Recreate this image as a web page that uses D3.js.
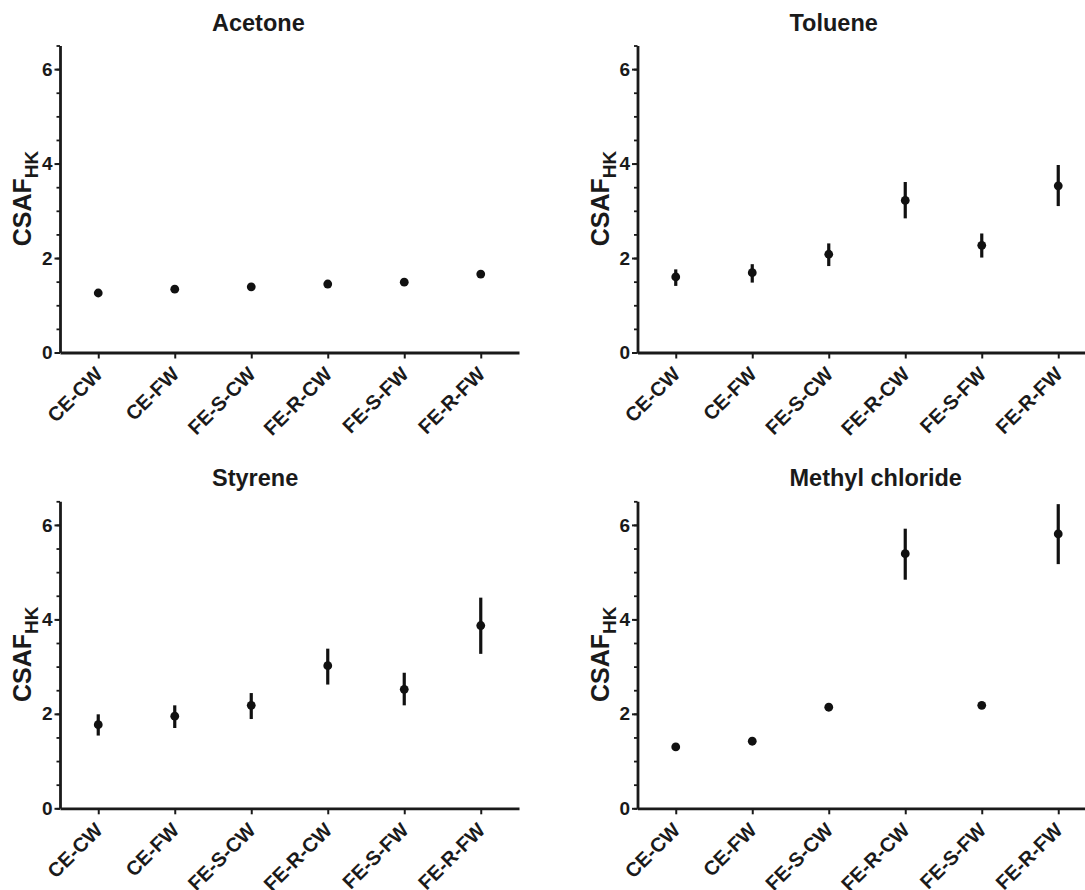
<html>
<script src='https://d3js.org/d3.v7.min.js'></script>
<style>
 body {margin: 0; background: #fff;}
 text {font-family: "Liberation Sans", Arial, sans-serif; font-weight: bold; fill: #1a1a1a;}
</style>
<body onload='init()'>
<svg width=1085 height=890></svg>
<script>
// groups on the x axis
var groups = ["CE-CW", "CE-FW", "FE-S-CW", "FE-R-CW", "FE-S-FW", "FE-R-FW"];
var yTicks = [0, 2, 4, 6];
var titles = ["Acetone", "Toluene", "Styrene", "Methyl chloride"];

// mean values and error bar ends
var acetoneMean = [1.26, 1.34, 1.39, 1.45, 1.49, 1.66];
var acetoneLow  = [1.26, 1.34, 1.39, 1.45, 1.49, 1.66];
var acetoneHigh = [1.26, 1.34, 1.39, 1.45, 1.49, 1.66];

var tolueneMean = [1.60, 1.69, 2.08, 3.22, 2.27, 3.53];
var tolueneLow  = [1.41, 1.48, 1.83, 2.84, 2.01, 3.10];
var tolueneHigh = [1.76, 1.87, 2.31, 3.61, 2.52, 3.97];

var styreneMean = [1.77, 1.95, 2.18, 3.02, 2.52, 3.87];
var styreneLow  = [1.54, 1.70, 1.89, 2.62, 2.18, 3.27];
var styreneHigh = [1.99, 2.18, 2.44, 3.38, 2.87, 4.46];

var methylMean = [1.30, 1.42, 2.14, 5.39, 2.18, 5.81];
var methylLow  = [1.30, 1.42, 2.14, 4.84, 2.18, 5.17];
var methylHigh = [1.30, 1.42, 2.14, 5.92, 2.18, 6.44];

function init() {

var svg = d3.select("svg");

var panels = [
  {mean: acetoneMean, low: acetoneLow, high: acetoneHigh, left: 60, bottom: 352.5},
  {mean: tolueneMean, low: tolueneLow, high: tolueneHigh, left: 637.5, bottom: 352.5},
  {mean: styreneMean, low: styreneLow, high: styreneHigh, left: 60, bottom: 808.3},
  {mean: methylMean, low: methylLow, high: methylHigh, left: 637.5, bottom: 808.3}
];

var w = 459, h = 307;

panels.forEach(function (p, i) {
  var g = svg.append("g").attr("transform", "translate(" + p.left + "," + (p.bottom - h) + ")");

  var x = d3.scalePoint().domain(groups).range([0, w]).padding(0.5);
  var y = d3.scaleLinear().domain([0, 6.5]).range([h, 0]);

  // minor ticks every 0.5
  var yMinor = g.append("g")
    .call(d3.axisLeft(y).tickValues(d3.range(0, 6.51, 0.5)).tickSize(3.5).tickFormat(""));
  yMinor.select(".domain").remove();
  yMinor.selectAll("line").attr("stroke", "#1a1a1a").attr("stroke-width", 1.8);

  var yAxis = g.append("g")
    .call(d3.axisLeft(y).tickValues(yTicks).tickFormat(d3.format("d")).tickSize(5.5).tickSizeOuter(0).tickPadding(2));
  yAxis.select(".domain").attr("stroke", "#1a1a1a").attr("stroke-width", 2.8);
  yAxis.selectAll("line").attr("stroke", "#1a1a1a").attr("stroke-width", 2);
  yAxis.selectAll("text").style("font-size", "19px");

  var xAxis = g.append("g")
    .attr("transform", "translate(0," + h + ")")
    .call(d3.axisBottom(x).tickSize(6).tickSizeOuter(0));
  xAxis.select(".domain").attr("stroke", "#1a1a1a").attr("stroke-width", 2.8);
  xAxis.selectAll("line").attr("stroke", "#1a1a1a").attr("stroke-width", 2);
  xAxis.selectAll("text")
    .style("font-size", "20px")
    .style("text-anchor", "end")
    .attr("y", 0).attr("dy", 0)
    .attr("transform", "translate(5,23) rotate(-45)");

  // error bars
  g.selectAll(".err")
    .data(groups)
    .enter()
    .append("line")
    .attr("x1", function (d) { return x(d); })
    .attr("x2", function (d) { return x(d); })
    .attr("y1", function (d, j) { return y(p.low[j]); })
    .attr("y2", function (d, j) { return y(p.high[j]); })
    .attr("stroke", "#111")
    .attr("stroke-width", 3.2);

  g.selectAll(".dot")
    .data(groups)
    .enter()
    .append("circle")
    .attr("cx", function (d) { return x(d); })
    .attr("cy", function (d, j) { return y(p.mean[j]); })
    .attr("r", 4.4)
    .attr("fill", "#111");

  // title
  g.append("text")
    .attr("x", 152)
    .attr("y", -15)
    .style("font-size", "23.5px")
    .text(titles[i]);

  // y axis label with subscript
  var lab = g.append("text")
    .attr("transform", "translate(-29," + (h - 154) + ") rotate(-90)")
    .style("text-anchor", "middle")
    .style("font-size", "25px");
  lab.append("tspan").text("CSAF");
  lab.append("tspan").attr("dy", 7).style("font-size", "19px").text("HK");
});

}
</script>
</body>
</html>
